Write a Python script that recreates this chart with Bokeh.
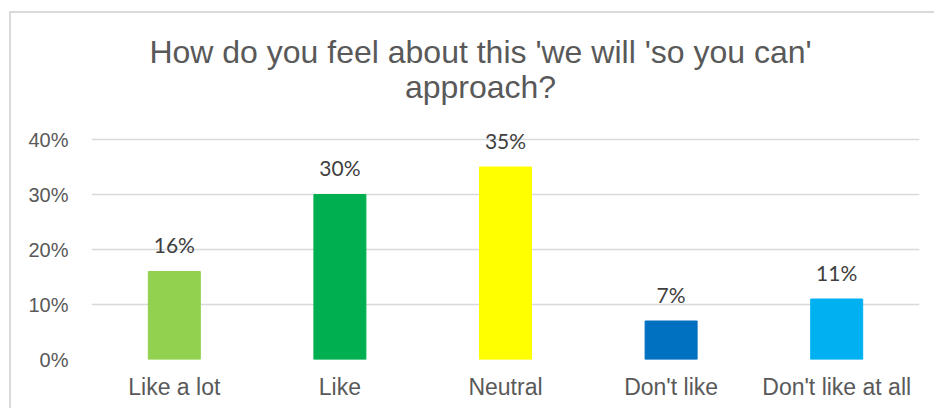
from bokeh.plotting import figure
from bokeh.models import (FixedTicker, NumeralTickFormatter, Label,
                          ColumnDataSource, FactorRange, Range1d)
from bokeh.core.properties import value
from bokeh.embed import file_html
from bokeh.resources import INLINE

categories = ["Like a lot", "Like", "Neutral", "Don't like", "Don't like at all"]
shares = [0.16, 0.30, 0.35, 0.07, 0.11]
share_labels = ["16%", "30%", "35%", "7%", "11%"]
y_ticks = [0.0, 0.1, 0.2, 0.3, 0.4]
title_lines = ["How do you feel about this 'we will 'so you can'", "approach?"]

bar_colors = ["#92D050", "#00B050", "#FFFF00", "#0070C0", "#00B0F0"]

src = ColumnDataSource(dict(cat=categories, val=shares, lab=share_labels, col=bar_colors))

# page offset of the figure content (border drawn with CSS)
OX, OY = 11, 13
W, H = 936 - OX, 410 - OY
frame_bottom = 359 - OY

p = figure(width=W, height=H, output_backend="svg", toolbar_location=None,
           x_range=FactorRange(*categories, range_padding=0),
           y_range=Range1d(0, frame_bottom / 550),
           min_border_left=91 - OX, min_border_right=17, min_border_top=0,
           min_border_bottom=H - frame_bottom)
p.outline_line_color = None
p.background_fill_color = "white"
p.border_fill_color = "white"
p.styles = {"border-left": "2px solid #d9d9d9", "border-top": "2px solid #d9d9d9",
            "margin-left": "9px", "margin-top": "11px"}

p.vbar(x="cat", top="val", width=0.314, color="col", source=src)
p.text(x="cat", y="val", text="lab", source=src, text_align="center",
       text_baseline="alphabetic", y_offset=-27, text_font=value("Lato"),
       text_font_size="21px", text_color="#404040")

p.yaxis.ticker = FixedTicker(ticks=y_ticks)
p.yaxis.formatter = NumeralTickFormatter(format="0%")
p.yaxis.axis_line_color = None
p.yaxis.major_tick_line_color = None
p.yaxis.minor_tick_line_color = None
p.yaxis.major_label_text_font = "Liberation Sans"
p.yaxis.major_label_text_font_size = "20px"
p.yaxis.major_label_text_color = "#595959"
p.yaxis.major_label_standoff = 17

p.xaxis.axis_line_color = None
p.xaxis.major_tick_line_color = None
p.xaxis.minor_tick_line_color = None
p.xaxis.major_label_text_font = "Liberation Sans"
p.xaxis.major_label_text_font_size = "23px"
p.xaxis.major_label_text_color = "#595959"
p.xaxis.major_label_standoff = 8

p.xgrid.grid_line_color = None
p.ygrid.ticker = FixedTicker(ticks=y_ticks)
p.ygrid.grid_line_color = "#d9d9d9"
p.ygrid.grid_line_width = 1.3

for line, yy in zip(title_lines, [49, 84]):
    p.add_layout(Label(x=478 - OX, y=yy - OY, x_units="canvas", y_units="canvas", text=line,
                       text_align="center", text_baseline="alphabetic",
                       text_font="Liberation Sans", text_font_size="32px",
                       text_color="#595959"))

open("out.html", "w").write(file_html(p, INLINE))
